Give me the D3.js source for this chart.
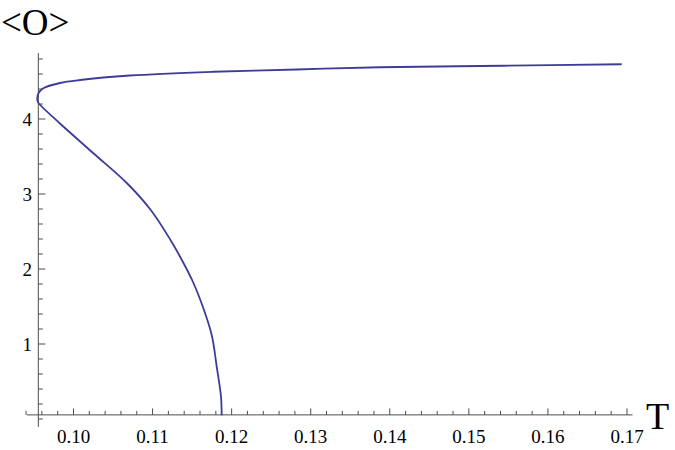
<!DOCTYPE html>
<html>
<head>
<meta charset="utf-8">
<script src="https://cdn.jsdelivr.net/npm/d3@7"></script>
<style>
  html, body { margin: 0; padding: 0; background: #fff; }
  svg { display: block; }
  text { font-family: "Liberation Serif", "Times New Roman", serif; fill: #000; }
</style>
</head>
<body>
<svg id="chart" width="675" height="450"></svg>
<script>
// Curve traced in path order: lower branch from bottom up, nose, upper branch
const tValues = [0.11874, 0.11865, 0.11811, 0.11748, 0.11621, 0.11510, 0.11350, 0.11225,
                 0.10975, 0.10680, 0.10255, 0.09829, 0.09576, 0.09548, 0.09542, 0.09560,
                 0.09618, 0.09829, 0.10082, 0.10715, 0.11768, 0.12823, 0.13876, 0.15432, 0.16933];
const oValues = [0.05, 0.30, 0.70, 1.12, 1.54, 1.83, 2.16, 2.39,
                 2.79, 3.14, 3.54, 3.94, 4.19, 4.23, 4.28, 4.35,
                 4.41, 4.48, 4.52, 4.58, 4.63, 4.66, 4.69, 4.71, 4.73];
const xTickLabels = ["0.10", "0.11", "0.12", "0.13", "0.14", "0.15", "0.16", "0.17"];
const yTickLabels = ["1", "2", "3", "4"];
const xAxisLabel = "T";
const yAxisLabel = "<O>";

const serif = '"Liberation Serif", "Times New Roman", serif';
const svg = d3.select("#chart");

// scales: 0.10 -> 73.5 px, 0.17 -> 627 px ; O=0 -> 419, O=1 -> 344
const x = d3.scaleLinear().domain([0.10, 0.17]).range([73.5, 627]);
const y = d3.scaleLinear().domain([0, 4]).range([419, 119]);

const axisColor = "#4d4d4d";
const xOriginO = 0.055;   // x axis drawn at this O
const yOriginT = 0.09555; // y axis drawn at this T
const ax = x(yOriginT), ay = y(xOriginO);

// X axis line
svg.append("line")
  .attr("x1", x(0.0941)).attr("x2", x(0.1707))
  .attr("y1", ay).attr("y2", ay)
  .attr("stroke", axisColor).attr("stroke-width", 1);

// X ticks
const xMinor = d3.range(0, 39).map(i => +(0.094 + i * 0.002).toFixed(3));
const xMajorVals = xTickLabels.map(Number);
svg.append("g").selectAll("line").data(xMinor).join("line")
  .attr("x1", d => x(d)).attr("x2", d => x(d))
  .attr("y1", ay).attr("y2", d => xMajorVals.some(m => Math.abs(m - d) < 1e-6) ? ay - 6.5 : ay - 4)
  .attr("stroke", axisColor).attr("stroke-width", 1);

svg.append("g").selectAll("text").data(xTickLabels).join("text")
  .attr("x", d => x(+d)).attr("y", 443)
  .attr("text-anchor", "middle")
  .attr("font-family", serif)
  .attr("font-size", 19)
  .text(d => d);

// Y axis line
svg.append("line")
  .attr("x1", ax).attr("x2", ax)
  .attr("y1", y(-0.105)).attr("y2", y(4.88))
  .attr("stroke", axisColor).attr("stroke-width", 1);

// Y ticks
const yMinor = d3.range(0, 25).map(i => +(i * 0.2).toFixed(1));
const yMajorVals = yTickLabels.map(Number);
svg.append("g").selectAll("line").data(yMinor).join("line")
  .attr("x1", ax).attr("x2", d => yMajorVals.some(m => Math.abs(m - d) < 1e-6) ? ax + 7 : ax + 4.5)
  .attr("y1", d => y(d)).attr("y2", d => y(d))
  .attr("stroke", axisColor).attr("stroke-width", 1);

svg.append("g").selectAll("text").data(yTickLabels).join("text")
  .attr("x", 32).attr("y", d => y(+d) + 6.5)
  .attr("text-anchor", "end")
  .attr("font-family", serif)
  .attr("font-size", 19)
  .text(d => d);

// Axis labels
svg.append("text").attr("x", 646).attr("y", 429).attr("font-family", serif).attr("font-size", 38).text(xAxisLabel);
svg.append("text").attr("x", 1).attr("y", 35).attr("font-family", serif).attr("font-size", 37).text(yAxisLabel);

// Curve
const pts = tValues.map((t, i) => [t, oValues[i]]);
const line = d3.line()
  .x(d => x(d[0])).y(d => y(d[1]))
  .curve(d3.curveCatmullRom.alpha(0.5));
svg.append("path")
  .attr("d", line(pts))
  .attr("fill", "none")
  .attr("stroke", "#3d3d99")
  .attr("stroke-width", 1.8)
  .attr("stroke-linejoin", "round");
</script>
</body>
</html>
